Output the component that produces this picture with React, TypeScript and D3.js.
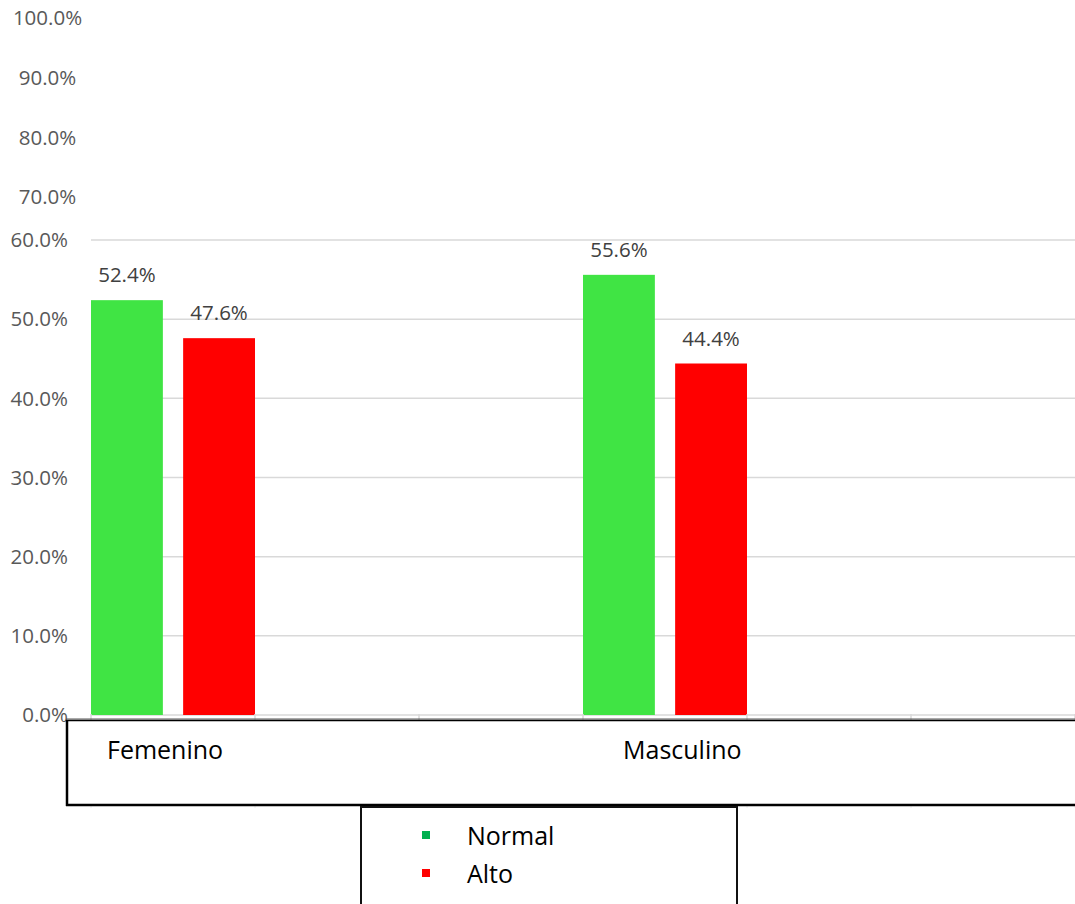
import React from "react";
import * as d3 from "d3";

const categories = ["Femenino", "Masculino"];
const seriesNames = ["Normal", "Alto"];
const normalValues = [52.4, 55.6];
const altoValues = [47.6, 44.4];
const lowerTicks = [0, 10, 20, 30, 40, 50, 60];
const upperTicks = [70, 80, 90, 100];
const seriesColors = ["#40E444", "#FF0000"];
const legendColors = ["#00B050", "#FF0000"];

const W = 1075;
const H = 904;
const FONT = "'Open Sans', 'Noto Sans', sans-serif";

export default function App() {
  const y = d3.scaleLinear().domain([0, 60]).range([715, 240]);
  const yUpper = d3.scaleLinear().domain([70, 100]).range([197, 18]);
  const x = d3.scaleBand().domain(categories).range([91, 1075]).paddingInner(0).paddingOuter(0);
  const slot = x.bandwidth() / 3;
  const inner = d3.scaleBand().domain(seriesNames).range([0, slot]).paddingInner(0.22).paddingOuter(0);
  const fmt = (v: number) => v.toFixed(1) + "%";
  const values = [normalValues, altoValues];
  const tickXs = d3.range(0, 7).map((i) => 91 + i * slot);
  const labelDx = [16, 40];

  return (
    <svg width={W} height={H} style={{ position: "absolute", left: 0, top: 0, background: "#fff" }} fontFamily={FONT}>
      {lowerTicks.map((t) => (
        <line key={"g" + t} x1={91} x2={W} y1={y(t)} y2={y(t)} stroke="#D9D9D9" strokeWidth={1.5} />
      ))}
      {lowerTicks.map((t) => (
        <text key={"yl" + t} x={68} y={y(t)} dy="0.35em" textAnchor="end" fontSize={20.5} fill="#595959">
          {fmt(t)}
        </text>
      ))}
      {upperTicks.map((t) => (
        <text key={"yu" + t} x={47.5} y={yUpper(t)} dy="0.35em" textAnchor="middle" fontSize={20.5} fill="#595959">
          {fmt(t)}
        </text>
      ))}
      {categories.map((c, ci) =>
        seriesNames.map((s, si) => {
          const v = values[si][ci];
          const bx = (x(c) as number) + (inner(s) as number);
          const bw = inner.bandwidth();
          return (
            <g key={c + s}>
              <rect x={bx} y={y(v)} width={bw} height={y(0) - y(v)} fill={seriesColors[si]} />
              <text x={bx + bw / 2} y={y(v) - 25} dy="0.35em" textAnchor="middle" fontSize={20.5} fill="#404040">
                {fmt(v)}
              </text>
            </g>
          );
        })
      )}
      {tickXs.map((tx, i) => (
        <g key={"t" + i}>
          <line x1={tx} x2={tx} y1={714} y2={720} stroke="#D9D9D9" strokeWidth={1.5} />
          <line x1={tx} x2={tx} y1={806} y2={808} stroke="#EEEEEE" strokeWidth={1} />
        </g>
      ))}
      <line x1={66} x2={W} y1={719} y2={719} stroke="#555" strokeWidth={1} />
      <line x1={66} x2={W} y1={720.5} y2={720.5} stroke="#000" strokeWidth={1.5} />
      <line x1={67} x2={67} y1={720} y2={806} stroke="#000" strokeWidth={2.5} />
      <line x1={66} x2={W} y1={805} y2={805} stroke="#000" strokeWidth={2.5} />
      {categories.map((c, ci) => (
        <text key={"c" + c} x={(x(c) as number) + labelDx[ci]} y={750} dy="0.35em" textAnchor="start" fontSize={25} fill="#000">
          {c}
        </text>
      ))}
      <rect x={361} y={807} width={376} height={110} fill="none" stroke="#111" strokeWidth={2} />
      {seriesNames.map((s, si) => (
        <g key={"lg" + s}>
          <rect x={422} y={831 + si * 38} width={8} height={8} fill={legendColors[si]} />
          <text x={467} y={836 + si * 38} dy="0.35em" fontSize={25} fill="#000">
            {s}
          </text>
        </g>
      ))}
    </svg>
  );
}
